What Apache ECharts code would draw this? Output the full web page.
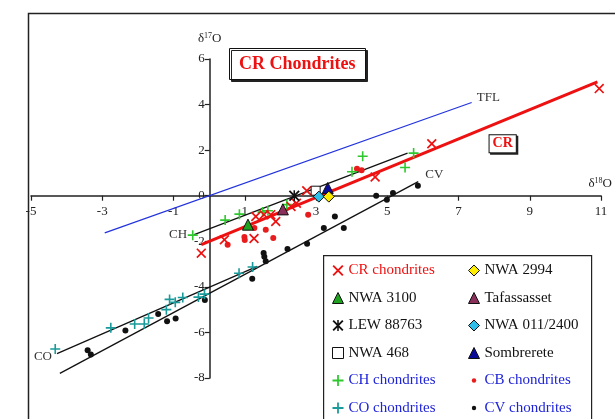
<!DOCTYPE html>
<html>
<head>
<meta charset="utf-8">
<script src="https://cdn.jsdelivr.net/npm/echarts@6/dist/echarts.min.js"></script>
<style>
html, body { margin: 0; padding: 0; background: #fff; }
#main { width: 615px; height: 419px; }
</style>
</head>
<body>
<div id="main"></div>
<script>
// [δ18O, δ17O] pairs
var crChondrites = [[10.95, 4.7], [6.25, 2.28], [4.66, 0.82], [2.74, 0.22], [2.45, -0.33], [2.3, -0.47],
    [1.87, -1.13], [1.73, -0.83], [1.54, -0.83], [1.31, -0.91], [1.26, -1.88], [0.43, -1.93], [-0.22, -2.52]];
var chChondrites = [[-0.46, -1.73], [0.45, -1.07], [0.85, -0.81], [1.5, -0.72], [1.65, -0.66], [2.18, -0.39],
    [4.01, 1.05], [4.31, 1.73], [5.5, 1.24], [5.74, 1.87]];
var coChondrites = [[-4.32, -6.73], [-2.76, -5.8], [-2.09, -5.63], [-1.82, -5.63], [-1.7, -5.37], [-1.2, -5.0],
    [-1.11, -4.55], [-0.95, -4.68], [-0.74, -4.47], [-0.3, -4.45], [-0.13, -4.32], [0.84, -3.4], [1.22, -3.13]];
var cbChondrites = [[0.52, -2.15], [0.99, -1.81], [1.0, -1.94], [1.27, -1.42], [1.59, -1.49], [1.8, -1.86],
    [2.78, -0.83], [4.15, 1.18], [4.28, 1.12]];
var cvChondrites = [[-3.41, -6.78], [-3.32, -6.97], [-2.35, -5.91], [-1.43, -5.19], [-1.18, -5.51], [-0.94, -5.39],
    [-0.12, -4.58], [1.21, -3.64], [1.53, -2.51], [1.55, -2.68], [1.59, -2.88], [2.2, -2.34], [2.75, -2.11],
    [3.22, -1.42], [3.53, -0.91], [3.78, -1.42], [4.69, 0.0], [4.99, -0.18], [5.16, 0.12], [5.86, 0.44]];
var nwa3100 = [[1.09, -1.27]];
var tafassasset = [[2.07, -0.6]];
var lew88763 = [[2.39, 0.0]];
var nwa468 = [[2.99, 0.22]];
var nwa011 = [[3.08, -0.04]];
var sombrerete = [[3.33, 0.34]];
var nwa2994 = [[3.36, -0.04]];

// fitted lines, end points
var tflLine = [[-2.93, -1.63], [7.37, 4.09]];
var crLine = [[-0.22, -2.15], [10.9, 5.0]];
var chLine = [[-0.42, -1.71], [5.57, 1.87]];
var coLine = [[-4.27, -6.93], [1.35, -3.1]];
var cvLine = [[-4.19, -7.8], [5.87, 0.62]];

var xTickLabels = [-5, -3, -1, 1, 3, 5, 7, 9, 11];
var yTickLabels = [-8, -6, -4, -2, 0, 2, 4, 6];

var FONT = 'Liberation Serif';
var CROSS = 'path://M0,1.2 L1.2,0 L10,8.8 L8.8,10 Z M8.8,0 L10,1.2 L1.2,10 L0,8.8 Z';
var PLUS = 'path://M4.2,0 H5.8 V4.2 H10 V5.8 H5.8 V10 H4.2 V5.8 H0 V4.2 H4.2 Z';
var STAR = 'path://M0,1.2 L1.2,0 L10,8.8 L8.8,10 Z M8.8,0 L10,1.2 L1.2,10 L0,8.8 Z M4.3,0 H5.7 V10 H4.3 Z';
var SMALLDOT = 'path://M0,0 M12,12 M6,3.6 A2.4,2.4 0 1,1 6,8.4 A2.4,2.4 0 1,1 6,3.6 Z';

// grid box, used to shift the axes so they cross at zero
var GRID = { left: 31, right: 12, top: 59, bottom: 41, width: 615 - 31 - 12, height: 419 - 59 - 41 };
var xMin = xTickLabels[0], xMax = xTickLabels[xTickLabels.length - 1];
var yMin = yTickLabels[0], yMax = yTickLabels[yTickLabels.length - 1];
var xAxisOffset = -GRID.height * (0 - yMin) / (yMax - yMin);
var yAxisOffset = -GRID.width * (0 - xMin) / (xMax - xMin);

function lineSeries(name, pts, color, width, lab) {
    return {
        name: name,
        type: 'line',
        data: pts.map(function (p, i) {
            var d = { value: p };
            if (lab && lab.index === i) {
                d.label = { show: true, position: lab.pos, formatter: lab.text, offset: lab.offset || [0, 0],
                    distance: 5, color: '#333', fontFamily: FONT, fontSize: 13 };
            }
            return d;
        }),
        symbol: 'circle',
        symbolSize: 0.1,
        showSymbol: true,
        silent: true,
        itemStyle: { color: color },
        lineStyle: { color: color, width: width },
        z: 1
    };
}

function scatter(name, pts, symbol, size, color, border) {
    var s = {
        name: name,
        type: 'scatter',
        data: pts,
        symbol: symbol,
        symbolSize: size,
        itemStyle: { color: color, opacity: 1 },
        z: 3
    };
    if (border) {
        s.itemStyle.borderColor = border;
        s.itemStyle.borderWidth = 1;
    }
    return s;
}

var chart = echarts.init(document.getElementById('main'));

var legendText = { fontFamily: FONT, fontSize: 15, color: '#111' };
var blueText = { color: '#1f24d8' };

var option = {
    animation: false,
    backgroundColor: '#fff',
    title: {
        text: 'CR Chondrites',
        left: 229,
        top: 48,
        padding: [7, 10],
        borderColor: '#111',
        borderWidth: 1,
        backgroundColor: '#fff',
        shadowColor: '#222',
        shadowOffsetX: 2,
        shadowOffsetY: 2,
        textStyle: { color: '#ee1111', fontFamily: FONT, fontWeight: 'bold', fontSize: 18 }
    },
    graphic: [{
        type: 'rect',
        left: 26, top: 11,
        shape: { width: 620, height: 430 },
        style: { fill: 'none', stroke: '#222', lineWidth: 1.5 },
        z: 0
    }, {
        type: 'rect',
        left: 323, top: 255,
        shape: { width: 268, height: 190 },
        style: { fill: '#fff', stroke: '#222', lineWidth: 1.2 },
        z: 10
    }],
    grid: { left: GRID.left, right: GRID.right, top: GRID.top, bottom: GRID.bottom, containLabel: false },
    xAxis: {
        type: 'value',
        min: xMin,
        max: xMax,
        interval: xTickLabels[1] - xTickLabels[0],
        position: 'bottom',
        offset: xAxisOffset,
        name: '{d|δ}{s|18}{d|O}',
        nameLocation: 'end',
        nameGap: 11,
        nameTextStyle: {
            align: 'right', verticalAlign: 'bottom', padding: [0, 0, 6, 0],
            rich: {
                d: { fontFamily: FONT, fontSize: 13, color: '#222' },
                s: { fontFamily: FONT, fontSize: 8, color: '#222', verticalAlign: 'top' }
            }
        },
        axisLine: { onZero: false, lineStyle: { color: '#222', width: 1.5 } },
        axisTick: { length: 5, lineStyle: { color: '#222', width: 1.2 } },
        axisLabel: { margin: 9, color: '#222', fontFamily: FONT, fontSize: 13 },
        splitLine: { show: false }
    },
    yAxis: {
        type: 'value',
        min: yMin,
        max: yMax,
        interval: yTickLabels[1] - yTickLabels[0],
        position: 'left',
        offset: yAxisOffset,
        name: '{d|δ}{s|17}{d|O}',
        nameLocation: 'end',
        nameGap: 14,
        nameTextStyle: {
            rich: {
                d: { fontFamily: FONT, fontSize: 13, color: '#222' },
                s: { fontFamily: FONT, fontSize: 8, color: '#222', verticalAlign: 'top' }
            }
        },
        axisLine: { onZero: false, lineStyle: { color: '#222', width: 1.5 } },
        axisTick: { length: 5, lineStyle: { color: '#222', width: 1.2 } },
        axisLabel: { margin: 5, color: '#222', fontFamily: FONT, fontSize: 13 },
        splitLine: { show: false }
    },
    legend: [{
        orient: 'vertical',
        left: 332,
        top: 263,
        padding: 0,
        itemWidth: 11,
        itemHeight: 11,
        itemGap: 12.5,
        selectedMode: false,
        textStyle: legendText,
        itemStyle: { borderWidth: 1 },
        z: 11,
        data: [
            { name: 'CR chondrites', textStyle: { color: '#ee1111' } },
            { name: 'NWA 3100' },
            { name: 'LEW 88763' },
            { name: 'NWA 468' },
            { name: 'CH chondrites', textStyle: blueText },
            { name: 'CO chondrites', textStyle: blueText }
        ]
    }, {
        orient: 'vertical',
        left: 468,
        top: 263,
        padding: 0,
        itemWidth: 11,
        itemHeight: 11,
        itemGap: 12.5,
        selectedMode: false,
        textStyle: legendText,
        itemStyle: { borderWidth: 1 },
        z: 11,
        data: [
            { name: 'NWA 2994' },
            { name: 'Tafassasset' },
            { name: 'NWA 011/2400' },
            { name: 'Sombrerete' },
            { name: 'CB chondrites', icon: SMALLDOT, textStyle: blueText },
            { name: 'CV chondrites', icon: SMALLDOT, textStyle: blueText }
        ]
    }],
    series: [
        lineSeries('TFL', tflLine, '#2233dd', 1.2, { index: 1, pos: 'right', text: 'TFL', offset: [0, -5] }),
        lineSeries('CH line', chLine, '#111', 1.3, { index: 0, pos: 'left', text: 'CH', offset: [-2, 0] }),
        lineSeries('CO line', coLine, '#111', 1.3, { index: 0, pos: 'left', text: 'CO', offset: [0, 3] }),
        lineSeries('CV line', cvLine, '#111', 1.3, { index: 1, pos: 'right', text: 'CV', offset: [2, -7] }),
        Object.assign(lineSeries('CR line', crLine, '#ee1111', 3), {
            markPoint: {
                symbol: 'rect',
                symbolSize: 1,
                itemStyle: { color: 'rgba(0,0,0,0)' },
                label: {
                    show: true, position: 'inside', formatter: 'CR',
                    color: '#ee1111', fontFamily: FONT, fontWeight: 'bold', fontSize: 14,
                    backgroundColor: '#fff', borderColor: '#111', borderWidth: 1, padding: [2, 3, 1, 3],
                    shadowColor: '#222', shadowOffsetX: 1.5, shadowOffsetY: 1.5
                },
                data: [{ coord: [8.24, 2.28] }]
            }
        }),
        scatter('CB chondrites', cbChondrites, 'circle', 6, '#e81c1c'),
        scatter('CV chondrites', cvChondrites, 'circle', 6, '#111'),
        scatter('CH chondrites', chChondrites, PLUS, 10, '#2ec82e'),
        scatter('CO chondrites', coChondrites, PLUS, 10, '#1a9a9a'),
        scatter('CR chondrites', crChondrites, CROSS, 10, '#ee1111'),
        scatter('NWA 3100', nwa3100, 'triangle', 11, '#1fa31f', '#111'),
        scatter('Tafassasset', tafassasset, 'triangle', 11, '#8a2f5c', '#111'),
        scatter('LEW 88763', lew88763, STAR, 11, '#111'),
        scatter('NWA 468', nwa468, 'rect', 9, '#fff', '#111'),
        scatter('NWA 011/2400', nwa011, 'diamond', 11, '#2ec0ea', '#111'),
        scatter('Sombrerete', sombrerete, 'triangle', 11, '#0b0b9a', '#111'),
        scatter('NWA 2994', nwa2994, 'diamond', 11, '#ffee00', '#111')
    ]
};

chart.setOption(option);
</script>
</body>
</html>
